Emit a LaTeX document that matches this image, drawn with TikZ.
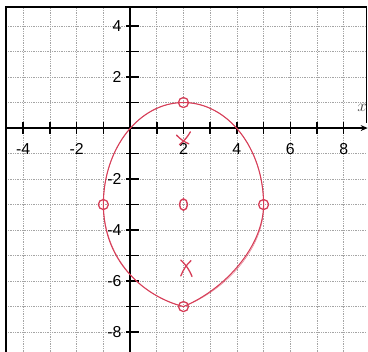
\documentclass[tikz,border=0pt]{standalone}
\usepackage{fontspec}
\setmainfont{Liberation Sans}
\usepackage{tikz}
\usetikzlibrary{arrows.meta,calc}
\definecolor{sketchred}{RGB}{214,62,88}
\definecolor{paperline}{RGB}{165,165,165}

\begin{document}
\begin{tikzpicture}[x=0.8cm, y=0.764cm,
    gridline/.style={paperline, densely dotted, line width=0.5pt},
    axisline/.style={line width=1.5pt},
    ticklabel/.style={font=\fontsize{13.5}{14}\selectfont, inner sep=1pt},
    sketch/.style={sketchred, line width=0.9pt, line cap=round}]
    \useasboundingbox (-4.87,-8.78) rectangle (8.91,5.02);
    % graph paper
    \foreach \gx in {-4,...,8} \draw[gridline] (\gx,-8.78) -- (\gx,4.75);
    \foreach \gy in {-8,...,4} \draw[gridline] (-4.64,\gy) -- (8.86,\gy);
    % frame of the sheet
    \draw[line width=1.2pt] (-4.64,-8.78) -- (-4.64,4.75) -- (8.86,4.75);
    \draw[line width=0.8pt] (8.86,4.75) -- (8.86,0.2);
    % axes with ticks
    \draw[axisline, -{Stealth[length=6pt,width=5pt]}] (-4.64,0) -- (8.9,0);
    \draw[axisline] (0,-8.78) -- (0,4.75);
    \foreach \t in {-4,...,-1,1,2,...,8} \draw[line width=1.3pt] (\t,-0.22) -- (\t,0.22);
    \foreach \t in {-8,...,-1,1,2,...,4} \draw[line width=1.3pt] (-0.15,\t) -- (0.35,\t);
    \foreach \t in {-4,-2,2,4,6,8} \node[ticklabel] (xtick\t) at (\t,-0.82) {\t};
    \foreach \t in {-8,-6,-4,-2,2,4} \node[ticklabel, anchor=east] (ytick\t) at (-0.27,\t) {\t};
    \node[font=\fontsize{14}{14}\selectfont, text=black!75] (xname) at (8.69,0.78) {$x$};
    % the sketched ellipse
    \coordinate (ctr) at (2,-3);
    \coordinate (vtop) at (2,1);
    \coordinate (vbot) at (2,-7);
    \coordinate (cleft) at (-1,-3);
    \coordinate (cright) at (5,-3);
    \coordinate (f1) at (2,-0.4);
    \coordinate (f2) at (2.1,-5.5);
    \foreach \dx/\dy/\w/\op in {0/0/0.9/1, 0.05/-0.04/0.5/0.6}
      \draw[sketch, line width=\w pt, opacity=\op, shift={(\dx,\dy)}]
        (cright) arc[start angle=0, end angle=180, x radius=3, y radius=4]
        .. controls (-1,-5.2) and (0.5,-6.6) .. (vbot)
        .. controls (3.6,-6.3) and (5,-4.6) .. (cright);
    % marked points
    \foreach \p in {vtop,vbot,cleft,cright} \draw[sketch, line width=1.1pt] (\p) circle (0.15cm);
    \draw[sketch, line width=1.2pt] (ctr) ellipse [x radius=0.12cm, y radius=0.17cm];
    % foci
    \draw[sketch, line width=1.1pt] ($(f1)+(0.26,0.25)$) to[bend left=10] ($(f1)+(-0.15,-0.25)$);
    \draw[sketch, line width=1.1pt] ($(f1)+(-0.26,0.12)$) to[bend right=10] ($(f1)+(0.2,-0.22)$);
    \draw[sketch, line width=1.1pt] ($(f2)+(-0.2,0.32)$) to[bend left=12] ($(f2)+(0.22,-0.32)$);
    \draw[sketch, line width=1.1pt] ($(f2)+(0.18,0.3)$) to[bend right=12] ($(f2)+(-0.2,-0.3)$);
\end{tikzpicture}
\end{document}
